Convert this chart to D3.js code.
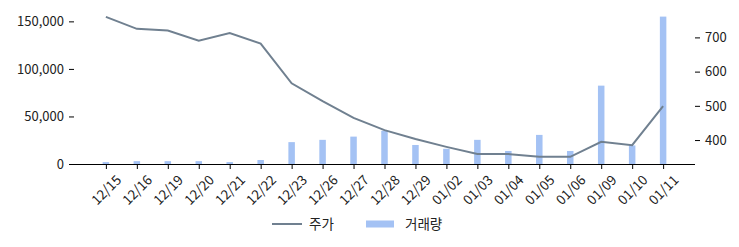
<!DOCTYPE html>
<html>
<head>
<meta charset="utf-8">
<script src="https://cdn.jsdelivr.net/npm/d3@7"></script>
<style>
  body { margin: 0; background: #fff; }
  svg text { font-family: "Noto Sans CJK KR", "Noto Sans", sans-serif; fill: #222; }
</style>
</head>
<body>
<svg id="chart"></svg>
<script>
// 데이터
const dates = ["12/15","12/16","12/19","12/20","12/21","12/22","12/23","12/26","12/27","12/28",
               "12/29","01/02","01/03","01/04","01/05","01/06","01/09","01/10","01/11"];
const price = [760, 725, 720, 690, 713, 682, 566, 514, 465, 429,
               403, 380, 359, 359, 351, 351, 395, 385, 499];
const volume = [2000, 3000, 3000, 3000, 2000, 4200, 23000, 25400, 28800, 35000,
                20000, 16000, 25400, 13700, 30600, 13700, 82400, 19500, 155000];
const leftTicks = [0, 50000, 100000, 150000];
const rightTicks = [400, 500, 600, 700];

const W = 739, H = 247;
const mLeft = 74, mRight = 695, mTop = 9, mBottom = 164;

const svg = d3.select("#chart").attr("width", W).attr("height", H);

const x = d3.scalePoint().domain(dates).range([mLeft, mRight]).padding(1.03);
const yL = d3.scaleLinear().domain([0, 163000]).range([mBottom, mTop]);
const yR = d3.scaleLinear().domain([330, 783]).range([mBottom, mTop]);

// 거래량 막대
const bw = 6.5;
svg.append("g")
  .selectAll("rect")
  .data(dates)
  .join("rect")
    .attr("x", d => x(d) - bw / 2)
    .attr("y", (d, i) => yL(volume[i]))
    .attr("width", bw)
    .attr("height", (d, i) => mBottom - yL(volume[i]))
    .attr("fill", "#a4c2f4");

// 주가 선
const line = d3.line()
  .x((d, i) => x(dates[i]))
  .y(d => yR(d));
svg.append("path")
  .datum(price)
  .attr("d", line)
  .attr("fill", "none")
  .attr("stroke", "#708090")
  .attr("stroke-width", 2);

// 축
const fmt = d3.format(",");
const gL = svg.append("g")
  .attr("transform", `translate(${mLeft},0)`)
  .call(d3.axisLeft(yL).tickValues(leftTicks).tickFormat(fmt).tickSize(5).tickPadding(5));
gL.select(".domain").remove();

const gR = svg.append("g")
  .attr("transform", `translate(${mRight},0)`)
  .call(d3.axisRight(yR).tickValues(rightTicks).tickSize(5).tickPadding(5));
gR.select(".domain").remove();

const gX = svg.append("g")
  .attr("transform", `translate(0,${mBottom})`)
  .call(d3.axisBottom(x).tickSize(5).tickSizeOuter(0));
gX.select(".domain").attr("d", `M${mLeft},0.5H${mRight}`);

svg.selectAll(".tick text").attr("font-size", 13).attr("fill", "#222");
svg.selectAll(".tick line, .domain").attr("stroke", "#000");

gX.selectAll(".tick text")
  .attr("text-anchor", "middle")
  .attr("font-size", 13.5)
  .attr("y", 0)
  .attr("dy", "0.35em")
  .attr("transform", "translate(0,26) rotate(-45)");

// 범례
const lg = svg.append("g").attr("transform", "translate(0,224)");
lg.append("line").attr("x1", 272).attr("x2", 302).attr("y1", 0).attr("y2", 0)
  .attr("stroke", "#708090").attr("stroke-width", 2);
lg.append("text").attr("x", 309).attr("y", 0).attr("dy", "0.35em").attr("font-size", 13.5).text("주가");
lg.append("rect").attr("x", 366).attr("y", -3.5).attr("width", 28).attr("height", 7).attr("fill", "#a4c2f4");
lg.append("text").attr("x", 405).attr("y", 0).attr("dy", "0.35em").attr("font-size", 13.5).text("거래량");
</script>
</body>
</html>
